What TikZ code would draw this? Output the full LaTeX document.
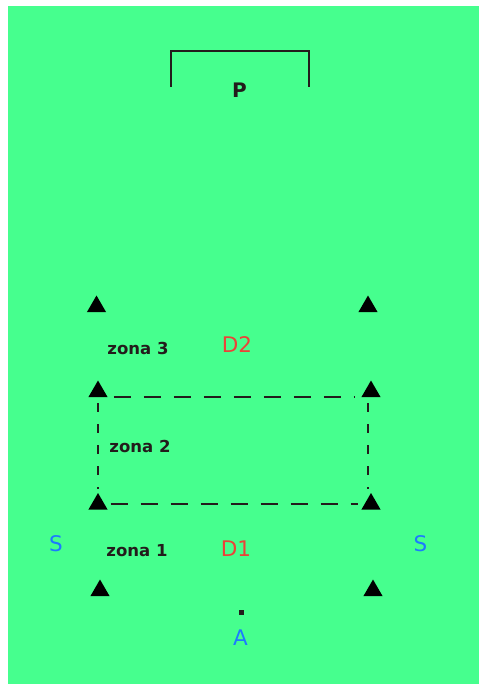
\documentclass[tikz,border=0pt]{standalone}
\usepackage{fontspec}
\setmainfont{DejaVu Sans}
\usetikzlibrary{shapes.geometric}
\definecolor{pitch}{RGB}{70,255,142}
\definecolor{ink}{RGB}{35,28,28}
\definecolor{redtxt}{RGB}{236,66,56}
\definecolor{bluetxt}{RGB}{28,122,255}
\tikzstyle{cone} = [regular polygon, regular polygon sides=3, minimum size=22pt,
inner sep=0pt, fill=black]
\tikzstyle{zone} = [anchor=base, text=ink, font=\bfseries\fontsize{16.5}{16.5}\selectfont]
\tikzstyle{defender} = [anchor=base, text=redtxt, font=\fontsize{21.5}{21.5}\selectfont]
\tikzstyle{player} = [anchor=base, text=bluetxt, font=\fontsize{21.5}{21.5}\selectfont]
\tikzstyle{hline} = [ink, line width=1.9pt, dash pattern=on 17pt off 13pt, shorten <=6pt, shorten >=6pt]
\tikzstyle{vline} = [ink, line width=1.9pt, dash pattern=on 9pt off 12pt, shorten <=6pt, shorten >=4pt]

\begin{document}
\begin{tikzpicture}[x=1pt, y=-1pt]

\useasboundingbox[fill=white] (0,0) rectangle (479,684);
\fill[pitch] (8,6) rectangle (479,684);

\draw[ink, line width=1.9pt] (171,87) -- (171,51) -- (309,51) -- (309,87);
\node(goal)[anchor=base, text=ink, font=\bfseries\fontsize{20}{20}\selectfont] at (239.5,98) {P};

\node(c1l)[cone] at (96.5,306.5) {};
\node(c1r)[cone] at (368,306.5) {};
\node(c2l)[cone] at (98,391.5) {};
\node(c2r)[cone] at (371,391.5) {};
\node(c3l)[cone] at (98,504) {};
\node(c3r)[cone] at (371,504) {};
\node(c4l)[cone] at (100,590.5) {};
\node(c4r)[cone] at (373,590.5) {};

\draw[hline](c2l.corner 3) -- (c2r.corner 2);
\draw[hline](c3l.east) -- (c3r.west);
\draw[vline](c2l.south) -- (c3l.corner 1);
\draw[vline]([xshift=-3pt]c2r.south) -- ([xshift=-3pt]c3r.corner 1);

\node(zone3)[zone] at (138,354) {zona 3};
\node(zone2)[zone] at (140,452) {zona 2};
\node(zone1)[zone] at (137,556) {zona 1};
\node(def2)[defender] at (237,352) {D2};
\node(def1)[defender] at (236,556) {D1};
\node(sleft)[player] at (56,551) {S};
\node(sright)[player] at (420.5,551) {S};
\node(att)[player] at (240.5,645) {A};
\node(ball)[fill=ink, minimum size=5pt, inner sep=0pt] at (241,612) {};

\end{tikzpicture}
\end{document}
